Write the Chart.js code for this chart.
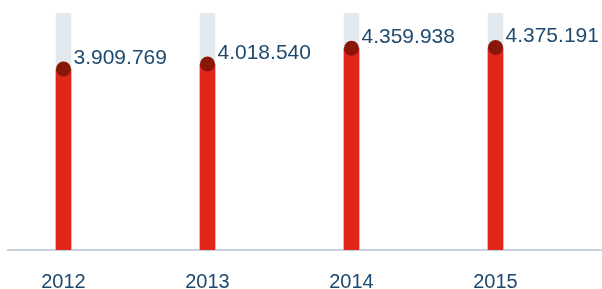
<!DOCTYPE html>
<html>
<head>
<meta charset="utf-8">
<script src="https://cdn.jsdelivr.net/npm/chart.js@4"></script>
<style>
  html, body { margin: 0; padding: 0; background: #ffffff; }
  #wrap { width: 602px; height: 289px; position: relative; }
</style>
</head>
<body>
<div id="wrap"><canvas id="c" width="602" height="289"></canvas></div>
<script>
// ---- data ----
const years = ['2012', '2013', '2014', '2015'];
const values = [3909769, 4018540, 4359938, 4375191];
const valueLabels = ['3.909.769', '4.018.540', '4.359.938', '4.375.191'];
const scaleMax = 5120000;

const positions = years.map((_, i) => i);
const redData = positions.map((i) => ({ x: i, y: values[i] }));
const greyData = positions.map((i) => ({ x: i, y: scaleMax }));

const TEXT = '#1f4a6e';

const valueLabelPlugin = {
  id: 'valueLabels',
  afterDatasetsDraw(chart) {
    const meta = chart.getDatasetMeta(0);
    const ctx = chart.ctx;
    ctx.save();
    ctx.font = '21px "Liberation Sans", Arial, sans-serif';
    ctx.fillStyle = TEXT;
    ctx.textAlign = 'left';
    ctx.textBaseline = 'middle';
    meta.data.forEach((pt, i) => {
      ctx.fillText(valueLabels[i], pt.x + 10, pt.y - 11);
    });
    ctx.restore();
  }
};

new Chart(document.getElementById('c'), {
  type: 'bar',
  data: {
    datasets: [
      {
        type: 'scatter',
        data: redData,
        pointRadius: 7.5,
        pointHoverRadius: 7.5,
        pointBackgroundColor: '#8a1608',
        pointBorderWidth: 0,
        order: 0
      },
      {
        data: redData,
        backgroundColor: '#e3261d',
        barThickness: 15,
        grouped: false,
        order: 1
      },
      {
        data: greyData,
        backgroundColor: '#e4e9ee',
        barThickness: 15,
        grouped: false,
        order: 2
      }
    ]
  },
  options: {
    responsive: false,
    animation: false,
    events: [],
    layout: { autoPadding: false, padding: { left: 8, right: 0, top: 13, bottom: 0 } },
    plugins: { legend: { display: false }, tooltip: { enabled: false } },
    scales: {
      x: {
        type: 'linear',
        offset: false,
        min: -0.3854,
        max: 3.7396,
        grid: { display: false, drawTicks: false, offset: false },
        border: { display: true, color: '#c6d3df', width: 2 },
        afterBuildTicks(scale) {
          scale.ticks = positions.map((v) => ({ value: v }));
        },
        afterFit(scale) { scale.height = 39; },
        ticks: {
          padding: 20,
          color: TEXT,
          font: { family: '"Liberation Sans", Arial, sans-serif', size: 20 },
          callback: (v) => years[v]
        }
      },
      y: {
        display: false,
        min: 0,
        max: scaleMax
      }
    }
  },
  plugins: [valueLabelPlugin]
});
</script>
</body>
</html>
